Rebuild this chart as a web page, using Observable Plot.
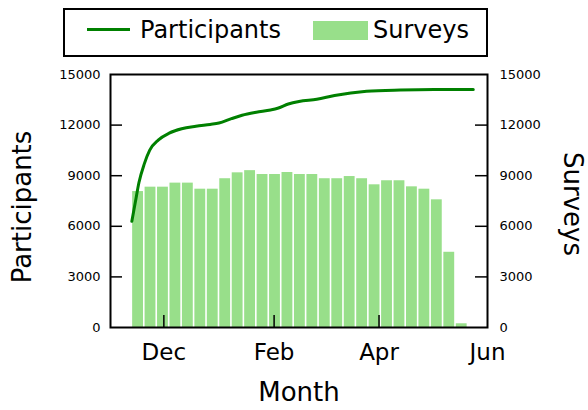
<!DOCTYPE html>
<html><head><meta charset="utf-8">
<script src="https://cdn.jsdelivr.net/npm/d3@7"></script>
<script src="https://cdn.jsdelivr.net/npm/@observablehq/plot@0.6"></script>
<style>
html,body{margin:0;padding:0;background:#fff;}
#wrap{position:relative;width:588px;height:410px;font-family:"DejaVu Sans",sans-serif;}
#legend{position:absolute;left:63px;top:8px;width:421px;height:45px;border:2px solid #000;background:#fff;}
#legend .ln{position:absolute;left:22px;top:18px;width:43px;height:3px;background:#008000;}
#legend .sw{position:absolute;left:248px;top:11px;width:55px;height:19px;background:#98df8a;}
#legend .tx{position:absolute;top:8px;font-size:24px;line-height:24px;color:#000;white-space:nowrap;}
</style>
</head><body>
<div id="wrap">
  <div id="chart"></div>
  <div id="legend">
    <div class="ln"></div><span class="tx" style="left:75px">Participants</span>
    <div class="sw"></div><span class="tx" style="left:308px">Surveys</span>
  </div>
</div>
<script>
// ---- data ----
const surveyWeeks = ["2014-11-13","2014-11-20","2014-11-27","2014-12-04","2014-12-11","2014-12-18","2014-12-25",
  "2015-01-01","2015-01-08","2015-01-15","2015-01-22","2015-01-29","2015-02-05","2015-02-12","2015-02-19","2015-02-26",
  "2015-03-05","2015-03-12","2015-03-19","2015-03-26","2015-04-02","2015-04-09","2015-04-16","2015-04-23","2015-04-30",
  "2015-05-07","2015-05-14"];
const surveyCounts = [8060,8320,8320,8560,8560,8200,8200,8820,9170,9300,9070,9070,9190,9070,9070,8820,8820,8950,8820,
  8460,8700,8700,8340,8200,7570,4460,220];

const participantDates = ["2014-11-13","2014-11-15","2014-11-17","2014-11-20","2014-11-23","2014-11-28","2014-12-04",
  "2014-12-11","2014-12-19","2014-12-27","2015-01-01","2015-01-08","2015-01-14","2015-01-22","2015-01-30","2015-02-03",
  "2015-02-09","2015-02-15","2015-02-25","2015-03-07","2015-03-25","2015-04-13","2015-05-02","2015-05-24"];
const participantCounts = [6300,7450,8600,9700,10500,11120,11520,11780,11930,12040,12120,12380,12580,12760,12900,13000,
  13250,13400,13530,13750,14000,14080,14110,14110];

const xTickDates = ["2014-12-01","2015-02-01","2015-04-01","2015-06-01"];
const xTickLabels = ["Dec","Feb","Apr","Jun"];
const yTicks = [0,3000,6000,9000,12000,15000];
const xDomainDates = ["2014-11-01","2015-06-01"];

// ---- build ----
const DAY = 864e5;
const surveys = surveyWeeks.map((d,i)=>({start:new Date(d), end:new Date(+new Date(d)+7*DAY), value:surveyCounts[i]}));
const participants = participantDates.map((d,i)=>({date:new Date(d), value:participantCounts[i]}));
const xTicks = xTickDates.map(d=>new Date(d));

const W=588,H=410,mL=110,mR=101,mT=74,mB=83;
const plotW=W-mL-mR, plotH=H-mT-mB, tickLen=12;

const chart = Plot.plot({
  width:W, height:H, marginLeft:mL, marginRight:mR, marginTop:mT, marginBottom:mB,
  style:{fontFamily:"DejaVu Sans", background:"#fff", color:"#000"},
  x:{type:"utc", domain:xDomainDates.map(d=>new Date(d))},
  y:{domain:[0,15000]},
  marks:[
    Plot.rectY(surveys,{x1:"start",x2:"end",y:"value",fill:"#98df8a",insetLeft:0.8,insetRight:0.8}),
    Plot.line(participants,{x:"date",y:"value",stroke:"#008000",strokeWidth:3,curve:"monotone-x"}),
    Plot.ruleX(xTicks.slice(0,3),{insetTop:plotH-tickLen,stroke:"#000",strokeWidth:1.5}),
    Plot.ruleY(yTicks.slice(1,5),{insetRight:plotW-tickLen,stroke:"#000",strokeWidth:1.5}),
    Plot.ruleY(yTicks.slice(1,5),{insetLeft:plotW-tickLen,stroke:"#000",strokeWidth:1.5}),
    Plot.frame({stroke:"#000",strokeWidth:2}),
    Plot.axisY({anchor:"left",ticks:yTicks,tickSize:0,tickPadding:10,tickFormat:d3.format("d"),label:null,fontSize:13}),
    Plot.axisY({anchor:"right",ticks:yTicks,tickSize:0,tickPadding:12,tickFormat:d3.format("d"),label:null,fontSize:13}),
    Plot.axisX({ticks:xTicks,tickSize:0,tickPadding:16,label:null,fontSize:23,
      tickFormat:d=>xTickLabels[xTicks.findIndex(t=>+t===+d)]}),
    Plot.text(["Participants"],{frameAnchor:"left",textAnchor:"middle",lineAnchor:"middle",dx:-88,dy:6,rotate:-90,fontSize:26,text:d=>d}),
    Plot.text(["Surveys"],{frameAnchor:"right",textAnchor:"middle",lineAnchor:"middle",dx:85,dy:3,rotate:90,fontSize:26,text:d=>d}),
    Plot.text(["Month"],{frameAnchor:"bottom",textAnchor:"middle",lineAnchor:"middle",dy:65,fontSize:26,text:d=>d})
  ]
});
document.getElementById("chart").appendChild(chart);
</script>
</body></html>
